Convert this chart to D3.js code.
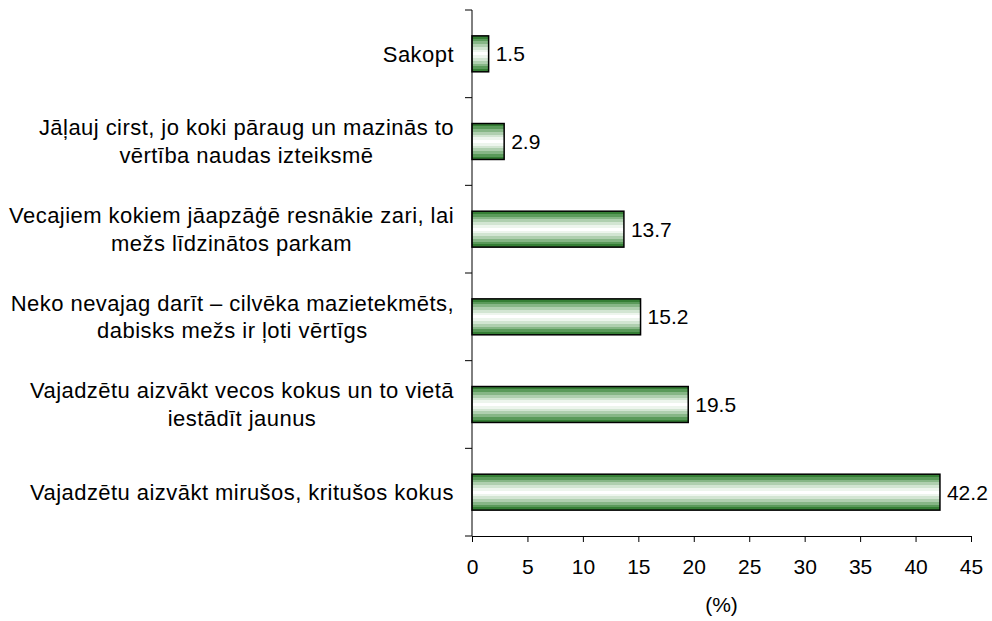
<!DOCTYPE html>
<html>
<head>
<meta charset="utf-8">
<script src="https://d3js.org/d3.v7.min.js"></script>
<style>
  body { margin: 0; background: #fff; }
  text { font-family: "Liberation Sans", Arial, sans-serif; fill: #000; }
</style>
</head>
<body>
<div id="chart"></div>
<script>
// categories, top to bottom (line breaks as in the original)
const categories = [
  ["Sakopt"],
  ["Jāļauj cirst, jo koki pāraug un mazinās to", "vērtība naudas izteiksmē"],
  ["Vecajiem kokiem jāapzāģē resnākie zari, lai", "mežs līdzinātos parkam"],
  ["Neko nevajag darīt – cilvēka mazietekmēts,", "dabisks mežs ir ļoti vērtīgs"],
  ["Vajadzētu aizvākt vecos kokus un to vietā", "iestādīt jaunus"],
  ["Vajadzētu aizvākt mirušos, kritušos kokus"]
]
const values = [1.5, 2.9, 13.7, 15.2, 19.5, 42.2]
const xTicks = [0, 5, 10, 15, 20, 25, 30, 35, 40, 45]
const axisTitle = "(%)"

const width = 992, height = 621
const plotLeft = 472, plotRight = 971, plotTop = 10, plotBottom = 536

const svg = d3.select("#chart").append("svg")
  .attr("width", width)
  .attr("height", height)

// striped green fill
const bands = ["#357f35", "#5a9a5a", "#86b686", "#afcfaf", "#d2e5d2", "#edf5ed", "#ffffff"]
const grad = svg.append("defs").append("linearGradient")
  .attr("id", "stripe").attr("x1", 0).attr("y1", 0).attr("x2", 0).attr("y2", 1)
const steps = bands.concat(bands.slice(0, -1).reverse())
steps.forEach((c, i) => {
  grad.append("stop").attr("offset", i / steps.length).attr("stop-color", c)
  grad.append("stop").attr("offset", (i + 1) / steps.length).attr("stop-color", c)
})

const keys = categories.map((c, i) => i)
const y = d3.scaleBand().domain(keys).range([plotTop, plotBottom])
  .paddingInner(0.59).paddingOuter(0.295)
const x = d3.scaleLinear().domain([0, 45]).range([plotLeft, plotRight])

// bars
svg.append("g").selectAll("rect")
  .data(values)
  .join("rect")
    .attr("x", x(0))
    .attr("y", (d, i) => y(i))
    .attr("width", d => x(d) - x(0))
    .attr("height", y.bandwidth())
    .attr("fill", "url(#stripe)")
    .attr("stroke", "#000")
    .attr("stroke-width", 1.5)

// value labels
svg.append("g").selectAll("text")
  .data(values)
  .join("text")
    .attr("x", d => x(d) + 7)
    .attr("y", (d, i) => y(i) + y.bandwidth() / 2)
    .attr("dy", "0.35em")
    .style("font-size", "21px")
    .text(d => d.toFixed(1))

// y axis line with category separator ticks
const yAxis = svg.append("g")
yAxis.append("line")
  .attr("x1", plotLeft).attr("x2", plotLeft).attr("y1", plotTop).attr("y2", plotBottom)
  .attr("stroke", "#000")
yAxis.selectAll(".sep")
  .data(d3.range(categories.length + 1))
  .join("line")
    .attr("class", "sep")
    .attr("x1", plotLeft - 7).attr("x2", plotLeft)
    .attr("y1", i => plotTop + i * y.step())
    .attr("y2", i => plotTop + i * y.step())
    .attr("stroke", "#000")

// category labels: lines centred, block right-aligned to the axis
const lineH = 27.5
keys.forEach(i => {
  const lines = categories[i]
  const g = svg.append("g")
  const cy = y(i) + y.bandwidth() / 2
  const txt = g.selectAll("text")
    .data(lines)
    .join("text")
      .attr("y", (d, j) => cy + (j - (lines.length - 1) / 2) * lineH)
      .attr("dy", "0.35em")
      .attr("text-anchor", "middle")
      .style("font-size", "22px")
      .style("letter-spacing", "0.45px")
      .text(d => d)
  let maxW = 0
  txt.each(function() { maxW = Math.max(maxW, this.getComputedTextLength()) })
  txt.attr("x", plotLeft - 18 - maxW / 2)
})

// x axis
const xAxis = svg.append("g")
  .attr("transform", `translate(0,${plotBottom})`)
  .call(d3.axisBottom(x).tickValues(xTicks).tickSize(6).tickPadding(17).tickSizeOuter(0))
xAxis.select(".domain").attr("stroke", "#000")
xAxis.selectAll(".tick line").attr("stroke", "#000")
xAxis.selectAll(".tick text")
  .style("font-size", "21px")
  .style("font-family", "'Liberation Sans', Arial, sans-serif")
  .attr("fill", "#000")

svg.append("text")
  .attr("x", (plotLeft + plotRight) / 2)
  .attr("y", 612)
  .attr("text-anchor", "middle")
  .style("font-size", "21px")
  .text(axisTitle)
</script>
</body>
</html>
